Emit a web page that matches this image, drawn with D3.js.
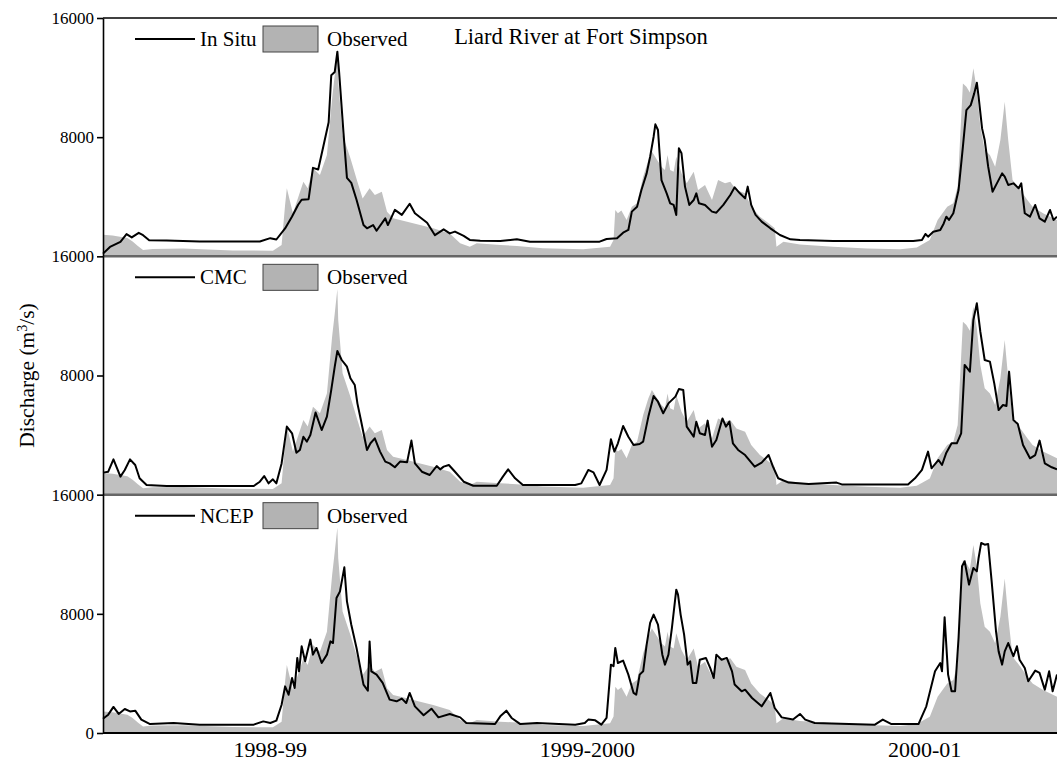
<!DOCTYPE html>
<html>
<head>
<meta charset="utf-8">
<script src="https://cdn.jsdelivr.net/npm/d3@7"></script>
<style>
  body { margin: 0; background: #fff; }
  text { font-family: "Liberation Serif", "Times New Roman", serif; fill: #000; }
</style>
</head>
<body>
<div id="chart"></div>
<script>
// ---------------------- DATA (day of record from 1 Oct 1998, discharge m3/s) ----------------------
var observedFlow = [[0,1450],[11,1400],[28,1230],[34,1000],[40,700],[46,430],[57,500],[92,520],[149,400],[195,380],[205,760],[209,3450],[211,4570],[218,2890],[230,5010],[235,4570],[241,5910],[249,5460],[257,6800],[263,10610],[266,12170],[269,13800],[270,11730],[275,8150],[284,6580],[292,5010],[298,3890],[306,4570],[312,4120],[320,4340],[326,3000],[333,2550],[349,2330],[364,2100],[379,1880],[398,1540],[410,870],[421,650],[429,870],[456,760],[475,700],[505,540],[551,470],[582,650],[586,1100],[588,3110],[591,2890],[595,3070],[601,2440],[607,3330],[613,3560],[620,5350],[626,6470],[630,7030],[636,6470],[641,6020],[645,5800],[648,6800],[651,5800],[655,5680],[658,6690],[664,5570],[670,4900],[678,5680],[683,4450],[691,4790],[699,3780],[706,5120],[714,4900],[720,5010],[727,4450],[737,4230],[744,3330],[754,2660],[764,2220],[771,1880],[773,650],[781,985],[800,800],[838,650],[877,530],[915,470],[934,600],[949,1090],[958,2440],[969,3330],[976,3560],[981,4680],[987,11610],[991,11390],[995,11000],[999,12620],[1003,11170],[1007,8700],[1012,7140],[1018,6800],[1024,6020],[1030,7810],[1035,10380],[1039,7810],[1044,5120],[1053,4450],[1061,3780],[1067,3330],[1079,2890],[1095,2440]];

var inSituFlow = [[0,180],[8,630],[20,970],[27,1490],[33,1270],[41,1580],[46,1420],[53,1085],[73,1060],[111,995],[180,995],[192,1220],[199,1130],[209,1875],[217,2670],[224,3460],[228,3800],[236,3840],[241,5940],[247,5830],[253,7410],[259,9000],[262,12160],[266,12380],[269,13740],[271,12380],[276,8320],[280,5270],[285,4930],[291,3800],[299,2100],[303,1880],[310,2100],[314,1720],[324,2550],[327,2100],[335,3120],[343,2780],[352,3530],[358,2890],[372,2260],[381,1420],[391,1810],[398,1540],[404,1660],[414,1370],[421,1100],[433,1050],[456,1030],[475,1140],[490,985],[570,985],[578,1160],[590,1210],[597,1590],[603,1770],[607,3000],[613,3330],[618,4450],[624,5570],[628,6690],[632,8030],[634,8860],[637,8480],[641,5120],[647,4230],[651,3560],[655,3450],[658,2780],[661,7250],[664,6920],[668,4680],[673,3450],[678,3780],[681,4230],[684,3560],[691,3450],[699,3000],[704,2930],[712,3450],[720,4120],[725,4630],[731,4230],[737,3890],[740,4680],[744,3450],[749,2780],[756,2330],[766,1880],[777,1430],[789,1140],[800,1090],[838,1030],[930,1030],[940,1090],[944,1500],[947,1320],[953,1650],[961,1770],[965,2210],[968,2660],[971,2440],[976,2890],[982,4450],[987,7360],[991,9820],[996,10150],[1000,10940],[1003,11660],[1005,10720],[1009,8590],[1012,7810],[1016,6020],[1021,4340],[1026,4900],[1032,5570],[1035,5350],[1039,4790],[1045,4900],[1051,4570],[1054,4900],[1058,2890],[1064,2660],[1070,3450],[1075,2550],[1081,2330],[1087,3110],[1091,2440],[1095,2660]];

var cmcFlow = [[0,1480],[6,1540],[12,2370],[20,1210],[25,1660],[31,2370],[37,1990],[42,1100],[50,650],[73,580],[173,580],[180,870],[185,1250],[190,760],[195,1030],[199,760],[205,2100],[211,4570],[217,4120],[222,2820],[226,3000],[230,3890],[234,3560],[238,4010],[244,5510],[251,4340],[257,5240],[262,7030],[266,8590],[269,9650],[274,9040],[280,8590],[284,7810],[289,7360],[292,6130],[296,5010],[303,3000],[307,3450],[312,3780],[318,2890],[324,2220],[329,2100],[335,1840],[341,2220],[349,2170],[354,3630],[358,2100],[366,1540],[375,1320],[383,1920],[387,1700],[391,1880],[397,1990],[404,1540],[414,870],[425,600],[452,600],[459,1210],[465,1700],[473,1100],[482,650],[542,650],[549,760],[557,1660],[563,1500],[570,650],[578,1660],[583,3720],[587,2890],[591,3450],[597,4610],[603,3890],[609,3330],[616,3400],[620,3560],[626,5240],[632,6620],[637,6240],[643,5460],[649,6130],[657,6580],[661,7090],[666,7030],[670,4570],[674,4230],[678,3890],[681,4900],[685,4120],[691,4010],[694,4970],[699,3220],[704,3670],[711,5120],[715,4570],[719,4900],[723,3450],[729,3000],[737,2660],[748,1880],[756,2150],[764,2660],[769,1880],[775,1100],[787,810],[810,720],[842,810],[848,690],[924,690],[932,1100],[940,1660],[947,2890],[951,1770],[959,2330],[963,1990],[968,2820],[974,3450],[980,3450],[985,4120],[989,8710],[995,8260],[999,11730],[1003,12850],[1007,10940],[1012,9040],[1018,8930],[1023,7470],[1028,5680],[1033,6020],[1037,5950],[1040,8260],[1045,5010],[1050,4740],[1056,3330],[1064,2440],[1070,2660],[1075,3630],[1081,2100],[1089,1840],[1095,1700]];

var ncepFlow = [[0,960],[6,1230],[12,1750],[18,1280],[25,1610],[31,1450],[37,1500],[44,900],[54,600],[81,670],[111,560],[173,560],[184,780],[192,670],[199,830],[205,1900],[209,3130],[213,2570],[217,3690],[220,3020],[223,5040],[225,4140],[228,5820],[232,4810],[238,6270],[241,5260],[245,5710],[251,4700],[257,5260],[261,6150],[264,6040],[268,9060],[272,9510],[277,11120],[280,8840],[285,7270],[291,5710],[299,3250],[304,2840],[306,6150],[308,4140],[314,3920],[321,3360],[329,2240],[337,2130],[343,2310],[348,2010],[352,2690],[358,1790],[368,1190],[377,1630],[385,1050],[398,1280],[410,1050],[417,670],[450,600],[456,1120],[463,1500],[469,1010],[479,600],[498,670],[542,560],[553,670],[557,900],[565,850],[572,560],[578,1010],[583,4590],[586,4480],[588,5710],[591,4700],[597,4860],[603,3920],[609,2690],[612,2570],[616,3920],[620,4140],[624,5930],[628,7390],[632,7950],[637,7270],[642,5260],[645,4590],[649,5260],[653,7050],[658,9620],[660,9290],[663,7950],[667,6600],[671,4590],[674,4810],[677,3360],[681,3360],[685,4920],[692,5040],[697,4360],[701,3690],[704,5260],[710,4920],[716,5040],[722,4140],[725,3250],[733,2800],[737,2910],[745,2350],[756,1790],[766,2690],[771,1680],[779,1050],[792,900],[800,1280],[806,900],[817,670],[886,560],[895,900],[905,600],[936,600],[945,1790],[955,4140],[961,4700],[963,4140],[966,7770],[970,3920],[974,2800],[978,2800],[982,6380],[986,11190],[989,11530],[994,9960],[999,11080],[1003,10850],[1005,11750],[1008,12760],[1012,12640],[1016,12690],[1020,10180],[1025,6830],[1028,5480],[1032,4590],[1035,5480],[1039,6040],[1045,5150],[1049,5820],[1052,4920],[1058,4360],[1062,3470],[1070,4190],[1075,4030],[1081,2910],[1086,4140],[1090,2800],[1095,3920]];

var modelNames = ["In Situ", "CMC", "NCEP"];
var yTickValues = [0, 8000, 16000];
var yearLabels = ["1998-99", "1999-2000", "2000-01"];
var yearLabelDays = [192, 556, 943];

(function() {
    var width = 1057,
        height = 763;
    var left = 103, right = 1057, top = 18, bottom = 733;
    var panelH = (bottom - top) / 3;

    var svg = d3.select("#chart")
        .append("svg")
        .attr("width", width)
        .attr("height", height);

    var x = d3.scaleLinear().domain([0, 1095]).range([left, right]);
    var models = [inSituFlow, cmcFlow, ncepFlow];

    models.forEach(function(series, i) {
        var pTop = top + i * panelH;
        var y = d3.scaleLinear().domain([0, 16000]).range([pTop + panelH, pTop]);
        var g = svg.append("g").attr("class", "panel");

        // observed as grey area
        var area = d3.area()
            .x(function(d) { return x(d[0]); })
            .y0(y(0))
            .y1(function(d) { return y(d[1]); });
        g.append("path")
            .datum(observedFlow)
            .attr("d", area)
            .attr("fill", "#c0c0c0");

        // model as black line
        var line = d3.line()
            .x(function(d) { return x(d[0]); })
            .y(function(d) { return y(d[1]); });
        g.append("path")
            .datum(series)
            .attr("d", line)
            .attr("fill", "none")
            .attr("stroke", "#000")
            .attr("stroke-width", 2)
            .attr("stroke-linejoin", "round");

        // panel bottom line
        g.append("line")
            .attr("x1", left).attr("x2", right)
            .attr("y1", y(0)).attr("y2", y(0))
            .attr("stroke", i < 2 ? "#666" : "#000")
            .attr("stroke-width", i < 2 ? 2.5 : 2);

        // y axis (top panels skip 0, the next panel's 16000 sits there)
        var ticks = i === 2 ? yTickValues : yTickValues.slice(1);
        var ax = g.append("g")
            .attr("transform", "translate(" + left + ",0)")
            .call(d3.axisLeft(y).tickValues(ticks).tickSize(6).tickSizeOuter(0)
                .tickPadding(3).tickFormat(d3.format("d")));
        ax.selectAll("text").style("font-size", "17px")
            .style("font-family", "'Liberation Serif', serif");
        ax.selectAll("path, line").attr("stroke", "#000").attr("stroke-width", 1.6);

        // legend
        var ly = pTop + 21;
        g.append("line")
            .attr("x1", 135).attr("x2", 195)
            .attr("y1", ly).attr("y2", ly)
            .attr("stroke", "#000").attr("stroke-width", 2);
        g.append("text")
            .attr("x", 200).attr("y", ly + 7)
            .style("font-size", "21px")
            .text(modelNames[i]);
        g.append("rect")
            .attr("x", 263).attr("y", ly - 13)
            .attr("width", 55).attr("height", 26)
            .attr("fill", "#b3b3b3")
            .attr("stroke", "#444").attr("stroke-width", 1);
        g.append("text")
            .attr("x", 327).attr("y", ly + 7)
            .style("font-size", "21px")
            .text("Observed");
    });

    // top border
    svg.append("line")
        .attr("x1", left).attr("x2", right)
        .attr("y1", top).attr("y2", top)
        .attr("stroke", "#000").attr("stroke-width", 1.6);

    // title
    svg.append("text")
        .attr("x", 581).attr("y", 44)
        .attr("text-anchor", "middle")
        .style("font-size", "22.5px")
        .text("Liard River at Fort Simpson");

    // year labels
    svg.selectAll(".year")
        .data(yearLabels)
        .enter().append("text")
        .attr("class", "year")
        .attr("x", function(d, i) { return x(yearLabelDays[i]); })
        .attr("y", 757)
        .attr("text-anchor", "middle")
        .style("font-size", "22px")
        .text(function(d) { return d; });

    // y axis title
    var yt = svg.append("text")
        .attr("transform", "translate(34," + ((top + bottom) / 2) + ") rotate(-90)")
        .attr("text-anchor", "middle")
        .style("font-size", "21.5px");
    yt.append("tspan").text("Discharge (m");
    yt.append("tspan").attr("baseline-shift", "super").style("font-size", "14px").text("3");
    yt.append("tspan").text("/s)");
})();
</script>
</body>
</html>
